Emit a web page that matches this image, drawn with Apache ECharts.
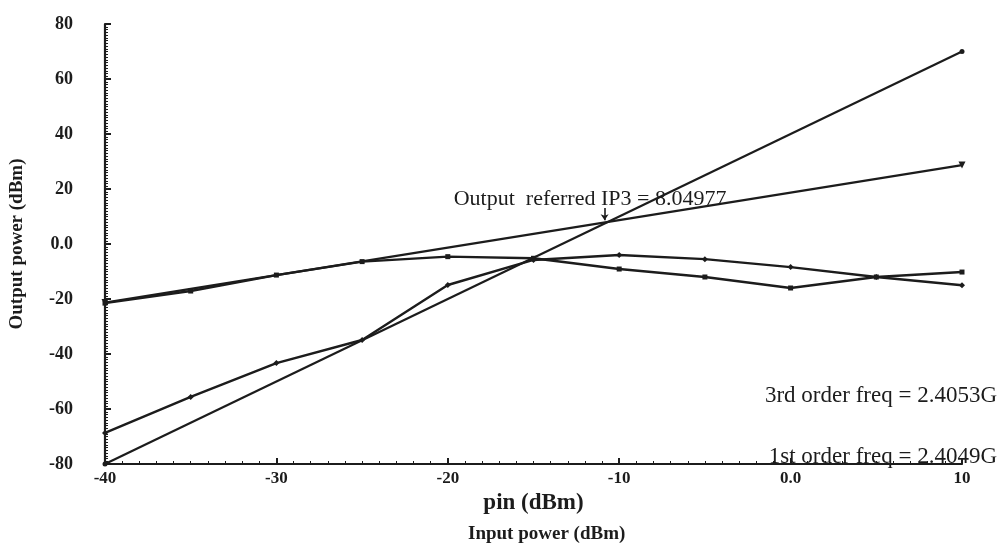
<!DOCTYPE html>
<html><head><meta charset="utf-8">
<script src="https://cdn.jsdelivr.net/npm/echarts@6/dist/echarts.min.js"></script>
<style>html,body{margin:0;padding:0;background:#fff}#c{width:1003px;height:546px}</style>
</head><body><div id="c"></div>
<script>
// Input power (dBm)
const pin = [-40, -35, -30, -25, -20, -15, -10, -5, 0, 5, 10];
// Simulated 1st-order (fundamental) output power (dBm)
const firstOrder = [-21.5, -17.1, -11.3, -6.4, -4.6, -5.2, -9.1, -12, -16, -12, -10.2];
// Simulated 3rd-order output power (dBm)
const thirdOrder = [-68.7, -55.6, -43.3, -34.9, -14.9, -5.8, -4, -5.5, -8.4, -12, -15];
// Extrapolated lines (end points)
const extrapX = [-40, 10];
const firstExtrap = [-21.3, 28.7];
const thirdExtrap = [-80, 70];
const ip3Point = [-10.65, 8.05];
const ip3Label = 'Output  referred IP3 = 8.04977';
const freq3Label = '3rd order freq = 2.4053G';
const freq1Label = '1st order freq = 2.4049G';
const xTicks = [-40, -30, -20, -10, 0, 10];
const yTicks = [-80, -60, -40, -20, 0, 20, 40, 60, 80];

const pairs = (xs, ys) => xs.map((x, i) => [x, ys[i]]);
const ink = '#1c1c1c';
const fmt = v => (v === 0 ? '0.0' : String(v));
const serif = '"Liberation Serif", "DejaVu Serif", serif';

const chart = echarts.init(document.getElementById('c'), null, {renderer: 'canvas'});
const lineBase = {type: 'line', showSymbol: true, symbolSize: 5, lineStyle: {color: ink, width: 2.4},
  itemStyle: {color: ink}, z: 3, animation: false};
chart.setOption({
  backgroundColor: '#fff',
  animation: false,
  grid: {left: 101, right: 41, top: 24, bottom: 82},
  xAxis: {
    type: 'value', min: xTicks[0], max: xTicks[xTicks.length - 1], interval: 10,
    axisLine: {onZero: false, lineStyle: {color: ink, width: 2.2}},
    axisTick: {inside: true, length: 6, lineStyle: {color: ink, width: 2}},
    minorTick: {show: true, splitNumber: 10, length: 3, lineStyle: {color: ink, width: 1}},
    splitLine: {show: false},
    axisLabel: {formatter: fmt, color: ink, fontFamily: serif, fontWeight: 'bold', fontSize: 17, margin: 6},
    name: 'pin (dBm)', nameLocation: 'middle', nameGap: 26,
    nameTextStyle: {color: ink, fontFamily: serif, fontWeight: 'bold', fontSize: 23}
  },
  yAxis: {
    type: 'value', min: yTicks[0], max: yTicks[yTicks.length - 1], interval: 20,
    axisLine: {onZero: false, lineStyle: {color: ink, width: 2.2}},
    axisTick: {inside: true, length: 6, lineStyle: {color: ink, width: 2}},
    minorTick: {show: true, splitNumber: 20, length: 3, lineStyle: {color: ink, width: 1}},
    splitLine: {show: false},
    axisLabel: {formatter: fmt, color: ink, fontFamily: serif, fontWeight: 'bold', fontSize: 18, margin: 32},
    name: 'Output power (dBm)', nameLocation: 'middle', nameGap: 78, nameRotate: 90,
    nameTextStyle: {color: ink, fontFamily: serif, fontWeight: 'bold', fontSize: 19}
  },
  graphic: [
    {type: 'text', left: 468, top: 525, style: {text: 'Input power (dBm)', fill: ink,
      font: 'bold 19px ' + serif}},
    {type: 'text', right: 6, top: 384, style: {text: freq3Label, fill: ink, font: '23px ' + serif}},
    {type: 'text', right: 6, top: 445, style: {text: freq1Label, fill: ink, font: '23px ' + serif}}
  ],
  series: [
    Object.assign({}, lineBase, {name: 'third extrapolated', data: pairs(extrapX, thirdExtrap), symbol: 'circle',
      lineStyle: {color: ink, width: 2.2}}),
    Object.assign({}, lineBase, {name: 'first extrapolated', data: pairs(extrapX, firstExtrap), symbol: 'triangle',
      symbolRotate: 180, symbolSize: 7, lineStyle: {color: ink, width: 2.2},
      markLine: {silent: true, symbol: ['none', 'arrow'], symbolSize: 6, label: {show: false},
        lineStyle: {color: ink, width: 1.6, type: 'solid'},
        data: [[{coord: [ip3Point[0] - 0.2, ip3Point[1] + 5]}, {coord: [ip3Point[0] - 0.2, ip3Point[1] + 0.6]}]]},
      markPoint: {silent: true, symbol: 'circle', symbolSize: 0,
        label: {show: true, formatter: ip3Label, color: ink, fontFamily: serif, fontSize: 22,
          position: 'top', distance: 0, offset: [-18, 2]},
        data: [{coord: [ip3Point[0], ip3Point[1] + 5]}]}
    }),
    Object.assign({}, lineBase, {name: '1st order', data: pairs(pin, firstOrder), symbol: 'rect'}),
    Object.assign({}, lineBase, {name: '3rd order', data: pairs(pin, thirdOrder), symbol: 'diamond', symbolSize: 6})
  ]
});
</script></body></html>
